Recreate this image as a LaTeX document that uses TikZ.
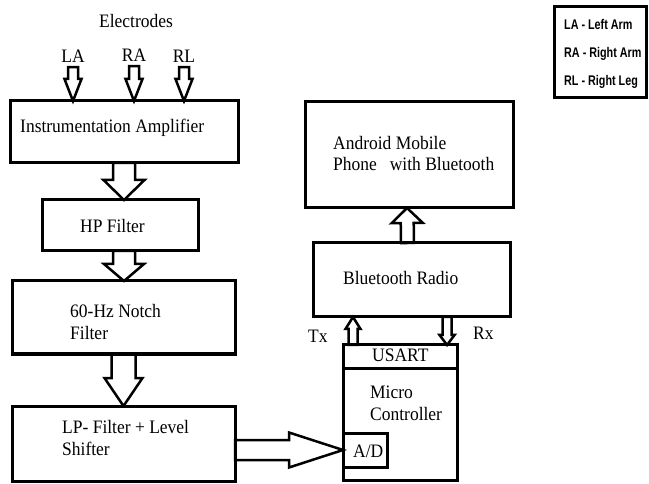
\documentclass[tikz,border=0pt]{standalone}
\usepackage{fontspec}
\setmainfont[FakeStretch=0.92]{Liberation Serif}
\newfontfamily\legfont[FakeStretch=0.77]{Liberation Sans}
\usetikzlibrary{calc}

\newcommand\fatarrow[5]{%
  \coordinate (fs) at (#1);
  \coordinate (ft) at (#2);
  \coordinate (fb) at ($(ft)!#5!(fs)$);
  \draw[fat] ($(fs)!#3!90:(ft)$) -- ($(fb)!#3!-90:(fs)$) -- ($(fb)!#4!-90:(fs)$) -- (ft)
    -- ($(fb)!#4!90:(fs)$) -- ($(fb)!#3!90:(fs)$) -- ($(fs)!#3!-90:(ft)$) -- cycle;
}

\begin{document}
\begin{tikzpicture}[x=1pt, y=-1pt,
  box/.style={draw, line width=3pt, inner sep=0pt, outer sep=0pt},
  txt/.style={anchor=base west, inner sep=0pt, font=\fontsize{19}{22}\selectfont},
  fat/.style={draw, line width=2.5pt, line join=miter},
  leg/.style={anchor=base west, inner sep=0pt, font=\legfont\bfseries\fontsize{14}{16}\selectfont}]
\useasboundingbox (0,0) rectangle (649,484);

\node[box, minimum width=228pt, minimum height=62pt] (ia) at (124,132) {};
\node[box, minimum width=156pt, minimum height=51pt] (hp) at (120,225.5) {};
\node[box, minimum width=223pt, minimum height=73pt] (notch) at (123.5,317.5) {};
\node[box, minimum width=223pt, minimum height=75pt] (lp) at (123.5,443.5) {};
\node[box, minimum width=208pt, minimum height=106pt] (android) at (409,155) {};
\node[box, minimum width=197pt, minimum height=74pt] (bt) at (411.5,280) {};
\node[box, minimum width=114pt, minimum height=23pt] (usart) at (400,356.5) {};
\node[box, minimum width=114pt, minimum height=112pt] (mcu) at (400,424) {};
\node[box, minimum width=44pt, minimum height=34pt] (ad) at (365,450) {};
\node[box, minimum width=92pt, minimum height=91pt] (legend) at (600,52.5) {};

\node[txt, anchor=base] (el) at (136,28) {Electrodes};
\node[txt, anchor=base] (la) at (73,63) {LA};
\node[txt, anchor=base] (ra) at (134,62) {RA};
\node[txt, anchor=base] (rl) at (184,63) {RL};
\node[txt] (iat) at (20,133) {Instrumentation Amplifier};
\node[txt] (hpt) at (80,233) {HP Filter};
\node[txt] (notcht) at (70,318) {60-Hz Notch};
\node[txt] (notchf) at (70,340) {Filter};
\node[txt] (lpt) at (62,433) {LP- Filter + Level};
\node[txt] (lps) at (62,455) {Shifter};
\node[txt] (andt) at (333,150) {Android Mobile};
\node[txt] (andp) at (333,171) {Phone\hspace{8.6pt} with Bluetooth};
\node[txt] (btt) at (343,285) {Bluetooth Radio};
\node[txt] (tx) at (308,343) {Tx};
\node[txt] (rx) at (473,340) {Rx};
\node[txt] (usartt) at (372,362) {USART};
\node[txt] (mcut) at (370,398) {Micro};
\node[txt] (mcuc) at (370,420) {Controller};
\node[txt] (adt) at (353,457) {A/D};
\node[leg] (leg1) at (564,30) {LA - Left Arm};
\node[leg] (leg2) at (564,58) {RA - Right Arm};
\node[leg] (leg3) at (564,86) {RL - Right Leg};

\fatarrow{[yshift=-4pt]la.south}{la.south |- ia.north}{5pt}{8.5pt}{22pt}
\fatarrow{[yshift=-4pt]ra.south}{ra.south |- ia.north}{5pt}{8.5pt}{22pt}
\fatarrow{[yshift=-4pt]rl.south}{rl.south |- ia.north}{5pt}{8.5pt}{22pt}
\fatarrow{ia.south}{ia.south |- hp.north}{11pt}{20.5pt}{20pt}
\fatarrow{ia.south |- hp.south}{ia.south |- notch.north}{11pt}{20pt}{17pt}
\fatarrow{notch.south}{notch.south |- lp.north}{12pt}{19pt}{28pt}
\fatarrow{ad.west -| lp.east}{ad.west}{10pt}{17.5pt}{54pt}
\fatarrow{$(bt.north)+(-4,0)$}{$(android.south)+(-2,0)$}{6.5pt}{15.5pt}{15pt}
\fatarrow{$(usart.north west)+(10,0)$}{$(bt.south west)+(40,0)$}{4.5pt}{7.5pt}{12pt}
\fatarrow{$(bt.south west)+(134,0)$}{$(usart.north west)+(104,0)$}{4.5pt}{7.5pt}{10pt}
\end{tikzpicture}
\end{document}
